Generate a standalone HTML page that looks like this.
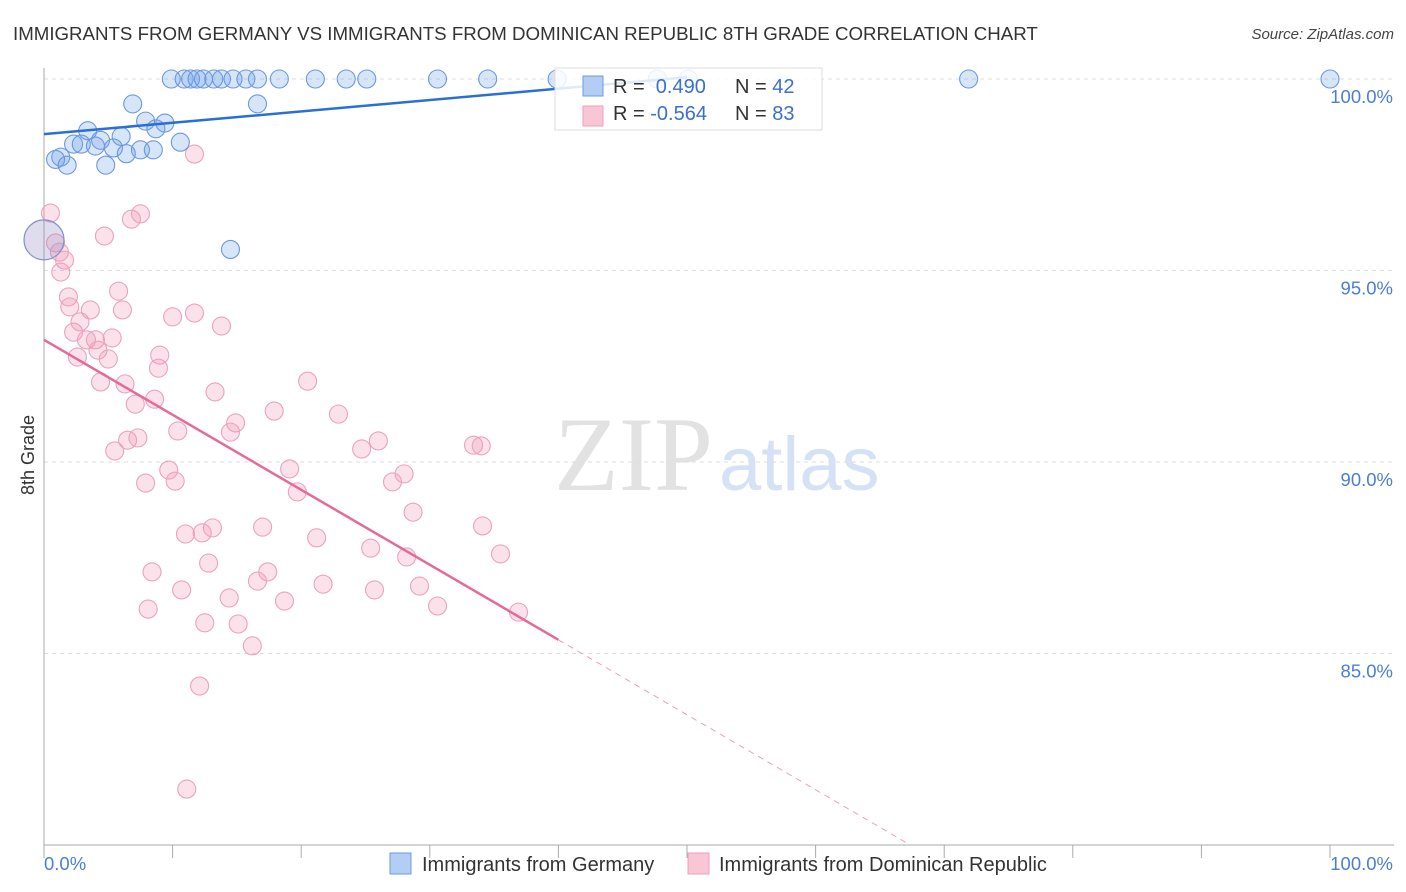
<!DOCTYPE html>
<html><head><meta charset="utf-8">
<style>
body{margin:0;background:#fff;}
svg{display:block;font-family:"Liberation Sans",sans-serif;}
</style></head><body>
<svg id="chart" width="1406" height="892" viewBox="0 0 1406 892">
<text x="13" y="40" font-size="18.7" fill="#333">IMMIGRANTS FROM GERMANY VS IMMIGRANTS FROM DOMINICAN REPUBLIC 8TH GRADE CORRELATION CHART</text>
<text x="1394" y="39" font-size="15" font-style="italic" fill="#444" text-anchor="end">Source: ZipAtlas.com</text>
<g>
<text x="554" y="490" font-family="Liberation Serif,serif" font-size="106" fill="#e2e2e2">ZIP</text>
<text x="719" y="490" font-size="76" fill="#d5e2f5">atlas</text>
</g>
<g id="grid"></g>
<g id="axes"></g>
<g id="pts"></g>
<g id="lines"></g>
<text transform="translate(34,455) rotate(-90)" font-size="18" fill="#333" text-anchor="middle">8th Grade</text>
<text x="44" y="870" font-size="18.5" fill="#4a7fd4">0.0%</text>
<text x="1393" y="870" font-size="18.5" fill="#4a7fd4" text-anchor="end">100.0%</text>
<g>
<rect x="555" y="68" width="267" height="62" fill="#fff" fill-opacity="0.85" stroke="#ddd"/>
<rect x="583" y="76" width="20" height="20" fill="#b4cdf2" stroke="#6d9be0"/>
<rect x="583" y="106" width="20" height="20" fill="#f8c6d5" stroke="#eda0b8"/>
<text x="613" y="93" font-size="20" fill="#333">R = <tspan fill="#3a70d0">&#160;0.490</tspan></text>
<text x="735" y="93" font-size="20" fill="#333">N = <tspan fill="#3a70d0">42</tspan></text>
<text x="613" y="120" font-size="20" fill="#333">R = <tspan fill="#3a70d0">-0.564</tspan></text>
<text x="735" y="120" font-size="20" fill="#333">N = <tspan fill="#3a70d0">83</tspan></text>
</g>
<g>
<rect x="390" y="853" width="21" height="21" fill="#b4cdf2" stroke="#6d9be0"/>
<text x="422" y="871" font-size="20" fill="#333">Immigrants from Germany</text>
<rect x="688" y="853" width="21" height="21" fill="#f8c6d5" stroke="#eda0b8"/>
<text x="719" y="871" font-size="20" fill="#333">Immigrants from Dominican Republic</text>
</g>
</svg>
<script>
const yTicks=[100,95,90,85];
const yTickLabels=["100.0%","95.0%","90.0%","85.0%"];
const xTicks=[0,10,20,30,40,50,60,70,80,90,100];
const germanyX=[9.9,10.9,11.4,11.9,12.4,13.2,13.8,14.7,15.7,16.6,18.3,21.1,23.5,25.1,30.6,34.5,39.9,47.7,50.1,71.9,100,6.9,16.6,7.9,9.4,8.7,3.4,6.0,4.4,2.3,2.9,4.0,5.4,7.5,8.5,6.4,10.6,1.3,0.9,1.8,4.8,14.5];
const germanyY=[100,100,100,100,100,100,100,100,100,100,100,100,100,100,100,100,100,100,100,100,100,99.35,99.35,98.9,98.85,98.7,98.65,98.5,98.4,98.3,98.3,98.25,98.2,98.15,98.15,98.05,98.35,97.96,97.9,97.75,97.75,95.55];
const dominicanX=[0.5,0.9,1.2,1.6,1.3,1.9,2.0,2.3,2.8,3.6,3.3,4.0,4.2,5.0,2.6,5.3,4.4,5.8,6.1,4.7,6.8,7.5,11.7,10.0,11.7,13.8,9.0,8.9,6.3,7.1,8.6,10.4,6.5,7.3,5.5,13.3,14.9,14.5,17.9,20.5,22.9,24.7,26.0,19.1,19.7,9.7,10.2,7.9,28.0,27.1,28.7,33.4,34.0,17.0,13.1,12.3,11.0,21.2,25.4,28.2,34.1,35.5,12.8,8.4,17.4,16.6,10.7,21.7,25.7,29.2,8.1,14.4,18.7,30.6,36.9,12.5,15.1,16.2,12.1,11.1];
const dominicanY=[96.50,95.72,95.48,95.27,94.96,94.31,94.05,93.39,93.66,93.97,93.19,93.19,92.92,92.69,92.74,93.24,92.09,94.46,93.97,95.90,96.34,96.48,98.04,93.79,93.89,93.55,92.79,92.45,92.04,91.51,91.64,90.81,90.57,90.63,90.29,91.83,91.02,90.78,91.33,92.11,91.25,90.34,90.55,89.82,89.22,89.79,89.50,89.45,89.69,89.48,88.69,90.44,90.42,88.30,88.28,88.15,88.12,88.02,87.75,87.52,88.33,87.60,87.36,87.13,87.13,86.89,86.66,86.81,86.66,86.76,86.16,86.45,86.37,86.24,86.08,85.80,85.77,85.20,84.15,81.46];
const germanyTrend=[98.56,0.0297];
const dominicanTrend=[93.19,-0.1958];

const NS="http://www.w3.org/2000/svg";
const X0=44,X1=1330,YT=79,YB=845;
const sx=v=>X0+(X1-X0)*v/100;
const sy=v=>YT+(100-v)*(YB-YT)/20;
function mk(tag,attrs,parent){const e=document.createElementNS(NS,tag);for(const k in attrs)e.setAttribute(k,attrs[k]);parent.appendChild(e);return e;}
const grid=document.getElementById('grid'),axes=document.getElementById('axes'),pts=document.getElementById('pts'),lines=document.getElementById('lines');
yTicks.forEach((t,i)=>{
 const l=mk('line',{x1:X0,x2:1394,y1:sy(t),y2:sy(t),stroke:'#ddd','stroke-dasharray':'4,4'},grid);
 
 
 const tx=mk('text',{x:1393,y:sy(t)+24,'font-size':18.5,fill:'#4a7fd4','text-anchor':'end'},grid);
 tx.textContent=yTickLabels[i];
 
 
});
const la=mk('line',{x1:X0,x2:X0,y1:68,y2:YB,stroke:'#aaa'},axes);


const lb=mk('line',{x1:X0,x2:1394,y1:YB,y2:YB,stroke:'#aaa'},axes);


xTicks.forEach(t=>{
 const k=mk('line',{x1:sx(t),x2:sx(t),y1:YB,y2:YB+13,stroke:'#aaa'},axes);
 
 
});
dominicanX.forEach((x,i)=>{
 const c=mk('circle',{cx:sx(x),cy:sy(dominicanY[i]),r:9,fill:'rgba(242,150,180,0.28)',stroke:'#eca3ba','stroke-width':1.1},pts);
 
 
});
germanyX.forEach((x,i)=>{
 const c=mk('circle',{cx:sx(x),cy:sy(germanyY[i]),r:9,fill:'rgba(110,160,230,0.28)',stroke:'#6b98e0','stroke-width':1.1},pts);
 
 
});
const big=mk('circle',{cx:sx(0),cy:sy(95.8),r:20,fill:'rgba(150,140,200,0.3)',stroke:'#7f90d0','stroke-width':1.2},pts);


const gl=mk('line',{x1:sx(0),y1:sy(germanyTrend[0]),x2:sx(50),y2:sy(germanyTrend[0]+germanyTrend[1]*50),stroke:'#2a6fd6','stroke-width':2.5},lines);


const dl=mk('line',{x1:sx(0),y1:sy(dominicanTrend[0]),x2:sx(40),y2:sy(dominicanTrend[0]+dominicanTrend[1]*40),stroke:'#e66a94','stroke-width':2.5},lines);


const xe=(dominicanTrend[0]-80)/-dominicanTrend[1];
const dd=mk('line',{x1:sx(40),y1:sy(dominicanTrend[0]+dominicanTrend[1]*40),x2:sx(xe),y2:sy(80),stroke:'#eaa0b8','stroke-width':1,'stroke-dasharray':'6,5'},lines);


</script>
</body></html>
